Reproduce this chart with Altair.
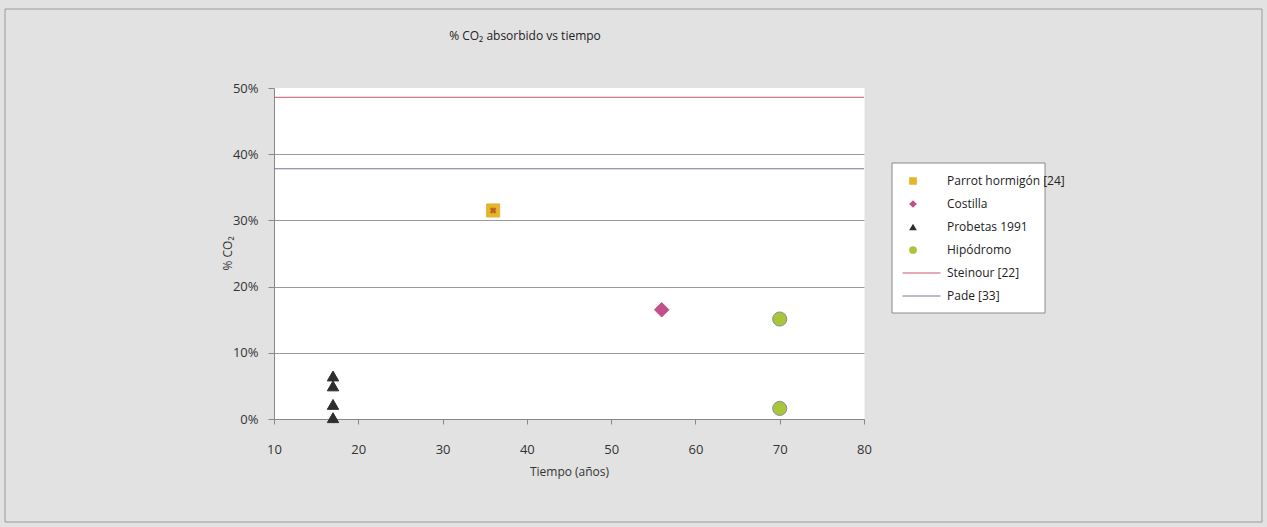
import altair as alt
import pandas as pd

# ---- data ----
parrot_t = [36]
parrot_co2 = [0.315]
costilla_t = [56]
costilla_co2 = [0.165]
probetas_t = [17, 17, 17, 17]
probetas_co2 = [0.065, 0.050, 0.022, 0.002]
hipodromo_t = [70, 70]
hipodromo_co2 = [0.151, 0.016]

point_names = ["Parrot hormigón [24]", "Costilla", "Probetas 1991", "Hipódromo"]
point_shapes = ["square", "diamond", "triangle-up", "circle"]
point_fills = ["#e5b52c", "#c2508c", "#2e2e2e", "#a9c53c"]
point_strokes = ["#e5b52c", "#c2508c", "#2e2e2e", "#8f8f8f"]
point_sizes = [170, 210, 130, 200]

line_names = ["Steinour [22]", "Pade [33]"]
line_co2 = [0.486, 0.378]
line_colors = ["#c9566c", "#737a8c"]

x_ticks = [10, 20, 30, 40, 50, 60, 70, 80]
y_ticks = [0.0, 0.1, 0.2, 0.3, 0.4, 0.5]

chart_title = "% CO₂ absorbido vs tiempo"

FONT = "Open Sans"

points = pd.DataFrame({
    "serie": [point_names[0]] * len(parrot_t) + [point_names[1]] * len(costilla_t)
    + [point_names[2]] * len(probetas_t) + [point_names[3]] * len(hipodromo_t),
    "t": parrot_t + costilla_t + probetas_t + hipodromo_t,
    "co2": parrot_co2 + costilla_co2 + probetas_co2 + hipodromo_co2,
})
lines = pd.DataFrame({"serie": line_names, "co2": line_co2})
frame = pd.DataFrame({"k": [0]})

x_enc = alt.X(
    "t:Q",
    scale=alt.Scale(domain=[10, 80], nice=False, zero=False),
    axis=alt.Axis(
        values=x_ticks, title="Tiempo (años)", grid=False, labelFlush=False,
        labelFont=FONT, labelFontSize=13, labelColor="#333333", labelPadding=19,
        tickColor="#888888", tickSize=5, domainColor="#888888",
        titleFont=FONT, titleFontSize=12, titleFontWeight="normal", titleColor="#333333",
        titlePadding=10,
    ),
)
y_enc = alt.Y(
    "co2:Q",
    scale=alt.Scale(domain=[0, 0.5], nice=False),
    axis=alt.Axis(
        values=y_ticks, format="%", title="% CO₂", labelFlush=False,
        labelFont=FONT, labelFontSize=13, labelColor="#333333", labelPadding=10,
        tickColor="#888888", tickSize=6, domainColor="#888888",
        gridColor={"condition": {"test": "datum.value >= 0.5", "value": "white"}, "value": "#9a9a9a"},
        titleFont=FONT, titleFontSize=12, titleFontWeight="normal", titleColor="#333333",
        titleX=-40, titleY=165, titleAngle=270,
    ),
)

outer = alt.Chart(frame).mark_rect(fill="transparent", stroke="#9a9a9a", strokeWidth=1).encode(
    x=alt.value(-269), x2=alt.value(988), y=alt.value(-79), y2=alt.value(434)
)
legend_box = alt.Chart(frame).mark_rect(fill="white", stroke="#8a8a8a", strokeWidth=1).encode(
    x=alt.value(618), x2=alt.value(771), y=alt.value(75), y2=alt.value(225)
)
title_text = alt.Chart(frame).mark_text(
    text=chart_title, font=FONT, fontSize=12, color="#222222", align="center", baseline="middle"
).encode(x=alt.value(251), y=alt.value(-52))

rules = alt.Chart(lines).mark_rule(strokeWidth=1).encode(
    y=y_enc,
    color=alt.Color(
        "serie:N",
        scale=alt.Scale(domain=line_names, range=line_colors),
        legend=alt.Legend(
            orient="none", legendX=628, legendY=179, title=None,
            symbolType="stroke", symbolSize=1444, symbolStrokeWidth=1,
            clipHeight=12, rowPadding=11, labelOffset=6,
            labelFont=FONT, labelFontSize=12, labelColor="#222222",
        ),
    ),
)

point_legend = alt.Legend(
    orient="none", legendX=633, legendY=87, title=None,
    symbolSize=60, symbolStrokeWidth=0, clipHeight=12, rowPadding=11, labelOffset=28,
    labelFont=FONT, labelFontSize=12, labelColor="#222222",
)
shape_enc = alt.Shape("serie:N", scale=alt.Scale(domain=point_names, range=point_shapes), legend=point_legend)
fill_enc = alt.Fill("serie:N", scale=alt.Scale(domain=point_names, range=point_fills), legend=point_legend)

point_layers = []
for name, stroke, size in zip(point_names, point_strokes, point_sizes):
    point_layers.append(
        alt.Chart(points).transform_filter(alt.datum.serie == name)
        .mark_point(filled=True, opacity=1, stroke=stroke, strokeWidth=1, size=size)
        .encode(x=x_enc, y=y_enc, shape=shape_enc, fill=fill_enc)
    )

parrot_x = alt.Chart(points).transform_filter(
    alt.datum.serie == point_names[0]
).mark_point(shape="cross", angle=45, filled=True, size=45, color="#b8671a", opacity=1).encode(
    x="t:Q", y="co2:Q"
)

chart = alt.layer(outer, title_text, rules, *point_layers, parrot_x, legend_box).properties(
    width=590,
    height=331,
    autosize=alt.AutoSizeParams(type="none"),
    padding={"left": 274, "top": 88, "right": 403, "bottom": 108},
).configure(background="#e2e2e2").configure_view(fill="white", stroke="transparent")

chart.save("out.html", embed_options={"renderer": "svg", "actions": False})
